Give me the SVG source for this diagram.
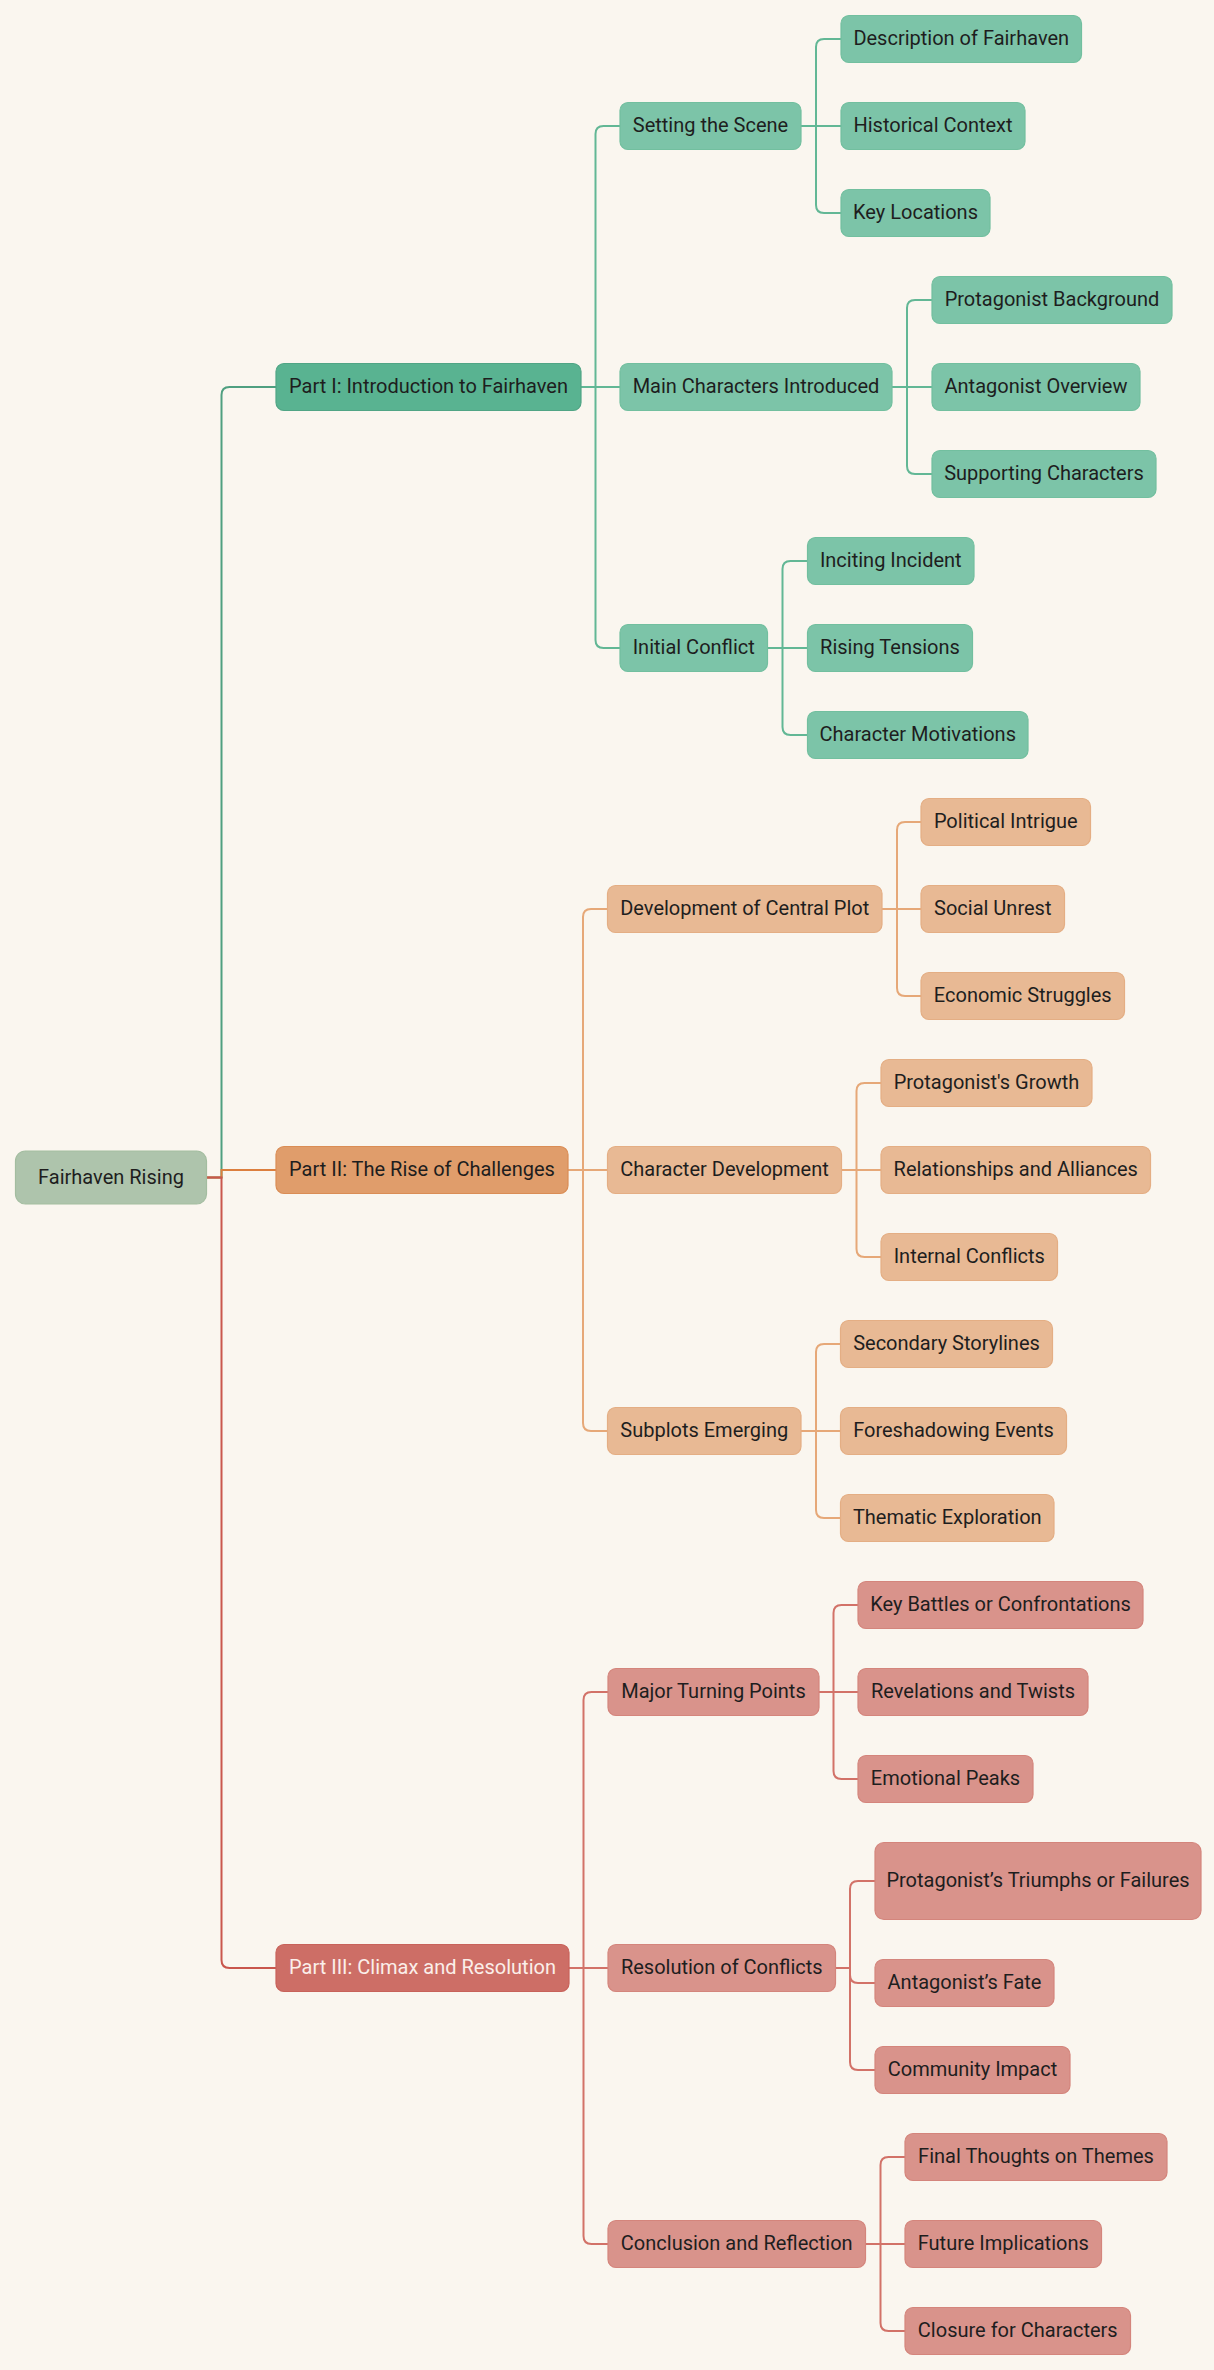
<svg xmlns="http://www.w3.org/2000/svg" width="1214" height="2370" viewBox="0 0 1214 2370">
<style>
text{font-family:Roboto,"Liberation Sans",Arial,sans-serif;font-size:20px;fill:#1e1e1e;text-anchor:middle}
rect{stroke-width:1.2}
.root{fill:#aec4ac;stroke:#a3bda0}
.g1{fill:#59b391;stroke:#50a585}
.g{fill:#7cc4a8;stroke:#72bf9f}
.o1{fill:#e09d6b;stroke:#da8d55}
.o{fill:#e8b994;stroke:#e4ae84}
.r1{fill:#cd6e66;stroke:#c8625a}
.r{fill:#d9938b;stroke:#d4857c}
.light{fill:#fbefea}
#connectors path{fill:none;stroke-width:2}
.lg{stroke:#62b795}.lg0{stroke:#4f9f80}
.lo{stroke:#e6a878}.lo0{stroke:#dc7f3e}
.lr{stroke:#d27268}.lr0{stroke:#c9574d}
</style>
<rect x="0" y="0" width="1214" height="2370" style="fill:#faf6ef;stroke:none"/>
<g id="connectors">
<path class="lg0" d="M206.5 1177.5 H221.5 V395 Q221.5 387 229.5 387 H276"/>
<path class="lo0" d="M206.5 1177.5 H221.5 V1170 H276"/>
<path class="lr0" d="M206.5 1177.5 H221.5 V1960 Q221.5 1968 229.5 1968 H276"/>
<path class="lg" d="M581 387 H595.5 V134 Q595.5 126 603.5 126 H620"/>
<path class="lg" d="M581 387 H620"/>
<path class="lg" d="M581 387 H595.5 V640 Q595.5 648 603.5 648 H620"/>
<path class="lo" d="M568 1170 H583 V917 Q583 909 591 909 H607.5"/>
<path class="lo" d="M568 1170 H607.5"/>
<path class="lo" d="M568 1170 H583 V1423 Q583 1431 591 1431 H607.5"/>
<path class="lr" d="M569 1968 H583.5 V1700 Q583.5 1692 591.5 1692 H608"/>
<path class="lr" d="M569 1968 H608"/>
<path class="lr" d="M569 1968 H583.5 V2236 Q583.5 2244 591.5 2244 H608"/>
<path class="lg" d="M801 126 H816 V47 Q816 39 824 39 H841"/>
<path class="lg" d="M801 126 H841"/>
<path class="lg" d="M801 126 H816 V205 Q816 213 824 213 H841"/>
<path class="lg" d="M892 387 H907 V308 Q907 300 915 300 H932"/>
<path class="lg" d="M892 387 H932"/>
<path class="lg" d="M892 387 H907 V466 Q907 474 915 474 H932"/>
<path class="lg" d="M767.5 648 H782.5 V569 Q782.5 561 790.5 561 H807.5"/>
<path class="lg" d="M767.5 648 H807.5"/>
<path class="lg" d="M767.5 648 H782.5 V727 Q782.5 735 790.5 735 H807.5"/>
<path class="lo" d="M882 909 H897 V830 Q897 822 905 822 H921"/>
<path class="lo" d="M882 909 H921"/>
<path class="lo" d="M882 909 H897 V988 Q897 996 905 996 H921"/>
<path class="lo" d="M841.5 1170 H856.5 V1091 Q856.5 1083 864.5 1083 H881"/>
<path class="lo" d="M841.5 1170 H881"/>
<path class="lo" d="M841.5 1170 H856.5 V1249 Q856.5 1257 864.5 1257 H881"/>
<path class="lo" d="M801 1431 H816 V1352 Q816 1344 824 1344 H840.5"/>
<path class="lo" d="M801 1431 H840.5"/>
<path class="lo" d="M801 1431 H816 V1510 Q816 1518 824 1518 H840.5"/>
<path class="lr" d="M819 1692 H833.5 V1613 Q833.5 1605 841.5 1605 H858"/>
<path class="lr" d="M819 1692 H858"/>
<path class="lr" d="M819 1692 H833.5 V1771 Q833.5 1779 841.5 1779 H858"/>
<path class="lr" d="M835.5 1968 H850 V1889 Q850 1881 858 1881 H875"/>
<path class="lr" d="M835.5 1968 H850 V1975 Q850 1983 858 1983 H875"/>
<path class="lr" d="M835.5 1968 H850 V2062 Q850 2070 858 2070 H875"/>
<path class="lr" d="M865.5 2244 H880.5 V2165 Q880.5 2157 888.5 2157 H905"/>
<path class="lr" d="M865.5 2244 H905"/>
<path class="lr" d="M865.5 2244 H880.5 V2323 Q880.5 2331 888.5 2331 H905"/>
</g>
<g id="root"><rect class="root" x="15.5" y="1151" width="191" height="53" rx="10"/><text x="111" y="1183.5">Fairhaven Rising</text></g>
<g id="part1"><rect class="g1" x="276" y="363.5" width="305" height="47" rx="8"/><text x="428.5" y="393">Part I: Introduction to Fairhaven</text></g>
<g id="part2"><rect class="o1" x="276" y="1146.5" width="292" height="47" rx="8"/><text x="422" y="1176">Part II: The Rise of Challenges</text></g>
<g id="part3"><rect class="r1" x="276" y="1944.5" width="293" height="47" rx="8"/><text class="light" x="422.5" y="1974">Part III: Climax and Resolution</text></g>
<g id="setting"><rect class="g" x="620" y="102.5" width="181" height="47" rx="8"/><text x="710.5" y="132">Setting the Scene</text></g>
<g id="mainchars"><rect class="g" x="620" y="363.5" width="272" height="47" rx="8"/><text x="756" y="393">Main Characters Introduced</text></g>
<g id="initial"><rect class="g" x="620" y="624.5" width="147.5" height="47" rx="8"/><text x="693.75" y="654">Initial Conflict</text></g>
<g id="description"><rect class="g" x="841" y="15.5" width="240.5" height="47" rx="8"/><text x="961.25" y="45">Description of Fairhaven</text></g>
<g id="historical"><rect class="g" x="841" y="102.5" width="184" height="47" rx="8"/><text x="933" y="132">Historical Context</text></g>
<g id="keylocations"><rect class="g" x="841" y="189.5" width="149" height="47" rx="8"/><text x="915.5" y="219">Key Locations</text></g>
<g id="protbackground"><rect class="g" x="932" y="276.5" width="240" height="47" rx="8"/><text x="1052" y="306">Protagonist Background</text></g>
<g id="antagoverview"><rect class="g" x="932" y="363.5" width="208" height="47" rx="8"/><text x="1036" y="393">Antagonist Overview</text></g>
<g id="supporting"><rect class="g" x="932" y="450.5" width="224" height="47" rx="8"/><text x="1044" y="480">Supporting Characters</text></g>
<g id="inciting"><rect class="g" x="807.5" y="537.5" width="166.5" height="47" rx="8"/><text x="890.75" y="567">Inciting Incident</text></g>
<g id="rising"><rect class="g" x="807.5" y="624.5" width="165" height="47" rx="8"/><text x="890" y="654">Rising Tensions</text></g>
<g id="motivations"><rect class="g" x="807.5" y="711.5" width="220.5" height="47" rx="8"/><text x="917.75" y="741">Character Motivations</text></g>
<g id="centralplot"><rect class="o" x="607.5" y="885.5" width="274.5" height="47" rx="8"/><text x="744.75" y="915">Development of Central Plot</text></g>
<g id="chardev"><rect class="o" x="607.5" y="1146.5" width="234" height="47" rx="8"/><text x="724.5" y="1176">Character Development</text></g>
<g id="subplots"><rect class="o" x="607.5" y="1407.5" width="193.5" height="47" rx="8"/><text x="704.25" y="1437">Subplots Emerging</text></g>
<g id="political"><rect class="o" x="921" y="798.5" width="169.5" height="47" rx="8"/><text x="1005.75" y="828">Political Intrigue</text></g>
<g id="social"><rect class="o" x="921" y="885.5" width="143.5" height="47" rx="8"/><text x="992.75" y="915">Social Unrest</text></g>
<g id="economic"><rect class="o" x="921" y="972.5" width="203.5" height="47" rx="8"/><text x="1022.75" y="1002">Economic Struggles</text></g>
<g id="growth"><rect class="o" x="881" y="1059.5" width="211" height="47" rx="8"/><text x="986.5" y="1089">Protagonist's Growth</text></g>
<g id="relationships"><rect class="o" x="881" y="1146.5" width="269.5" height="47" rx="8"/><text x="1015.75" y="1176">Relationships and Alliances</text></g>
<g id="internal"><rect class="o" x="881" y="1233.5" width="176.5" height="47" rx="8"/><text x="969.25" y="1263">Internal Conflicts</text></g>
<g id="secondary"><rect class="o" x="840.5" y="1320.5" width="212" height="47" rx="8"/><text x="946.5" y="1350">Secondary Storylines</text></g>
<g id="foreshadowing"><rect class="o" x="840.5" y="1407.5" width="226" height="47" rx="8"/><text x="953.5" y="1437">Foreshadowing Events</text></g>
<g id="thematic"><rect class="o" x="840.5" y="1494.5" width="213.5" height="47" rx="8"/><text x="947.25" y="1524">Thematic Exploration</text></g>
<g id="turning"><rect class="r" x="608" y="1668.5" width="211" height="47" rx="8"/><text x="713.5" y="1698">Major Turning Points</text></g>
<g id="resolution"><rect class="r" x="608" y="1944.5" width="227.5" height="47" rx="8"/><text x="721.75" y="1974">Resolution of Conflicts</text></g>
<g id="conclusion"><rect class="r" x="608" y="2220.5" width="257.5" height="47" rx="8"/><text x="736.75" y="2250">Conclusion and Reflection</text></g>
<g id="battles"><rect class="r" x="858" y="1581.5" width="285" height="47" rx="8"/><text x="1000.5" y="1611">Key Battles or Confrontations</text></g>
<g id="revelations"><rect class="r" x="858" y="1668.5" width="230" height="47" rx="8"/><text x="973" y="1698">Revelations and Twists</text></g>
<g id="emotional"><rect class="r" x="858" y="1755.5" width="175" height="47" rx="8"/><text x="945.5" y="1785">Emotional Peaks</text></g>
<g id="triumphs"><rect class="r" x="875" y="1842.5" width="326" height="77" rx="9"/><text x="1038" y="1887">Protagonist’s Triumphs or Failures</text></g>
<g id="fate"><rect class="r" x="875" y="1959.5" width="179" height="47" rx="8"/><text x="964.5" y="1989">Antagonist’s Fate</text></g>
<g id="community"><rect class="r" x="875" y="2046.5" width="195" height="47" rx="8"/><text x="972.5" y="2076">Community Impact</text></g>
<g id="finalthoughts"><rect class="r" x="905" y="2133.5" width="262" height="47" rx="8"/><text x="1036" y="2163">Final Thoughts on Themes</text></g>
<g id="future"><rect class="r" x="905" y="2220.5" width="196.5" height="47" rx="8"/><text x="1003.25" y="2250">Future Implications</text></g>
<g id="closure"><rect class="r" x="905" y="2307.5" width="225.5" height="47" rx="8"/><text x="1017.75" y="2337">Closure for Characters</text></g>
</svg>
